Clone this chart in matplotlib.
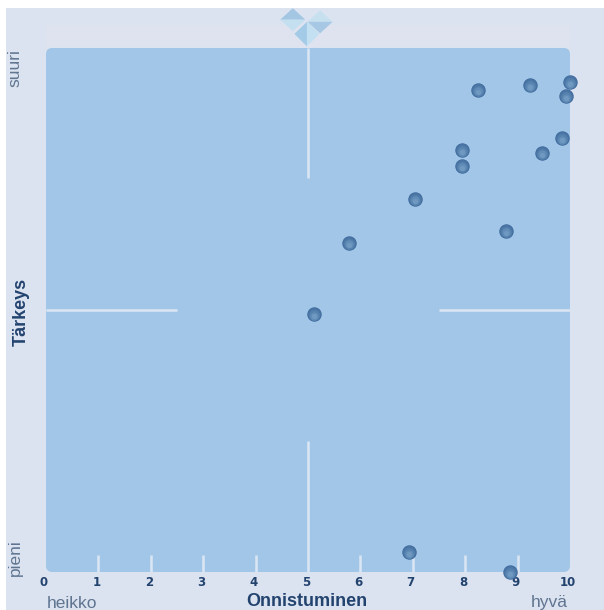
import matplotlib
matplotlib.use('Agg')
import matplotlib.pyplot as plt
from matplotlib.patches import FancyBboxPatch, Polygon, Rectangle

onnistuminen = [10.0, 9.24, 8.24, 9.92, 9.85, 9.47, 7.94, 7.94, 7.04, 8.78, 5.78, 5.11, 6.93, 8.85]
tarkeys = [9.35, 9.29, 9.2, 9.08, 8.28, 8.0, 8.05, 7.75, 7.12, 6.51, 6.28, 4.92, 0.38, 0.0]
x_ticks = [0, 1, 2, 3, 4, 5, 6, 7, 8, 9, 10]

W, H = 604, 610
BG = '#dce3f0'
PANEL = '#a2c6e7'
LINE = '#dbe6f4'
DARK = '#23436f'
GREY = '#5f7590'

plt.rcParams['font.family'] = ['Liberation Sans', 'DejaVu Sans']

fig = plt.figure(figsize=(W / 100, H / 100), dpi=100, facecolor='white')
fig.patches.append(Rectangle((6 / W, 0), 1 - 6 / W, 1 - 8 / H, transform=fig.transFigure,
                             facecolor=BG, edgecolor='none', zorder=-2))
# slightly warmer band along the top of the panel
fig.patches.append(Rectangle((46 / W, 1 - 47 / H), 524 / W, 22 / H, transform=fig.transFigure,
                             facecolor='#dfe3ef', edgecolor='none', zorder=-1))

ax = fig.add_axes([46 / W, 1 - 572 / H, 524 / W, 524 / H])
ax.set_xlim(0, 10)
ax.set_ylim(0, 10)
ax.axis('off')

ax.add_patch(FancyBboxPatch((0.1, 0.1), 9.8, 9.8, boxstyle='round,pad=0.1,rounding_size=0.12',
                            facecolor=PANEL, edgecolor='none', clip_on=False))

# cross in the middle
ax.plot([5, 5], [7.52, 10], color=LINE, lw=1.8, solid_capstyle='butt')
ax.plot([5, 5], [0, 2.5], color=LINE, lw=1.8, solid_capstyle='butt')
ax.plot([0, 2.5], [5, 5], color=LINE, lw=1.8, solid_capstyle='butt')
ax.plot([7.5, 10], [5, 5], color=LINE, lw=1.8, solid_capstyle='butt')

for t in x_ticks[1:-1]:
    if t != 5:
        ax.plot([t, t], [0, 0.33], color=LINE, lw=1.8, solid_capstyle='butt')

for t in x_ticks:
    ax.text(t - 0.04, -0.08, str(t), ha='center', va='top', fontsize=8.5, fontweight='bold',
            family=['DejaVu Sans'], color=DARK, clip_on=False)

# logo above the panel, three diamonds in data units
for cx, cy, top, low in [(4.71, 10.54, '#a3c6e2', '#c3dff0'),
                         (5.23, 10.5, '#c6e0f0', '#a6c8e4')]:
    ax.add_patch(Polygon([(cx - 0.24, cy), (cx, cy + 0.22), (cx + 0.24, cy)], facecolor=top,
                         edgecolor='none', clip_on=False))
    ax.add_patch(Polygon([(cx - 0.24, cy), (cx, cy - 0.22), (cx + 0.24, cy)], facecolor=low,
                         edgecolor='none', clip_on=False))
ax.add_patch(Polygon([(4.98, 10.5), (4.74, 10.27), (4.98, 10.03)], facecolor='#a3cbe8',
                     edgecolor='none', clip_on=False))
ax.add_patch(Polygon([(4.98, 10.5), (5.22, 10.27), (4.98, 10.03)], facecolor='#c3e0f2',
                     edgecolor='none', clip_on=False))

# balls, layered for the shading
ball_layers = [(108, 0.0, '#3f6a9c'), (86, 0.0, '#4a75a5'), (60, -0.015, '#5581ae'),
               (34, -0.03, '#628db8'), (14, -0.04, '#7099c1')]
for size, shift, colour in ball_layers:
    ax.scatter(onnistuminen, [v + shift for v in tarkeys], s=size, color=colour, linewidths=0,
               clip_on=False, zorder=5)

fig.text(47 / W, 1 - 603 / H, 'heikko', ha='left', va='center', fontsize=12.5, color=GREY)
fig.text(568 / W, 1 - 603 / H, 'hyvä', ha='right', va='center', fontsize=12.5, color=GREY)
fig.text(307 / W, 1 - 601 / H, 'Onnistuminen', ha='center', va='center', fontsize=13,
         fontweight='bold', color=DARK)
fig.text(15 / W, 1 - 68 / H, 'suuri', ha='center', va='center', rotation=90, fontsize=12.5, color=GREY)
fig.text(15 / W, 1 - 558 / H, 'pieni', ha='center', va='center', rotation=90, fontsize=12.5, color=GREY)
fig.text(21 / W, 1 - 312 / H, 'Tärkeys', ha='center', va='center', rotation=90, fontsize=13,
         fontweight='bold', color=DARK)

fig.savefig('out.png', dpi=100)
